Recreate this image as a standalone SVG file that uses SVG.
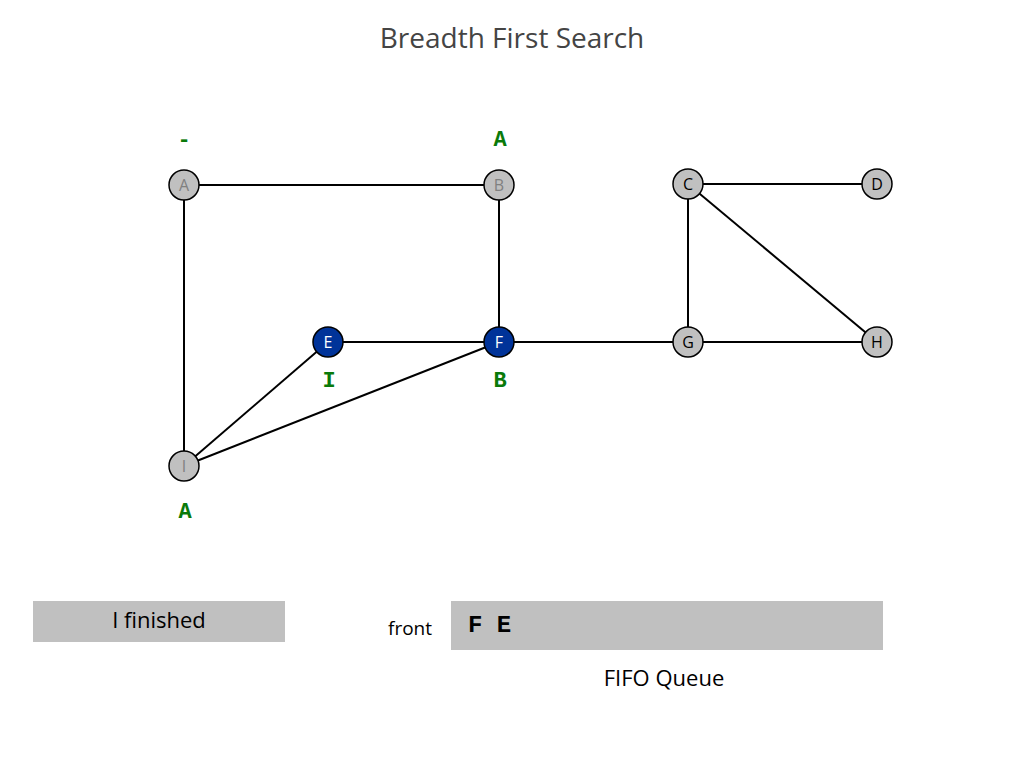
<svg xmlns="http://www.w3.org/2000/svg" width="1024" height="768" viewBox="0 0 1024 768">
<style>
.edge{stroke:#000;stroke-width:2;fill:none}
.node{stroke:#000;stroke-width:1.5}
.gray{fill:#c0c0c0}
.blue{fill:#003399}
.nt{font-family:"Open Sans","Liberation Sans",sans-serif;font-size:16px;text-anchor:middle;dominant-baseline:central}
.lab{font-family:"Liberation Mono",monospace;font-weight:bold;font-size:22px;fill:#0a7a0a;text-anchor:middle}
.txt{font-family:"Open Sans","Liberation Sans",sans-serif;fill:#000}
</style>
<rect width="1024" height="768" fill="#fff"/>
<text x="512" y="48" class="txt" style="font-size:28px;fill:#444;text-anchor:middle">Breadth First Search</text>
<g id="connectors">
<line class="edge" x1="184" y1="185" x2="499" y2="185"/>
<line class="edge" x1="184" y1="185" x2="184" y2="466"/>
<line class="edge" x1="499" y1="185" x2="499" y2="342"/>
<line class="edge" x1="328" y1="342" x2="499" y2="342"/>
<line class="edge" x1="499" y1="342" x2="688" y2="342"/>
<line class="edge" x1="688" y1="342" x2="877" y2="342"/>
<line class="edge" x1="688" y1="184" x2="877" y2="184"/>
<line class="edge" x1="688" y1="184" x2="688" y2="342"/>
<line class="edge" x1="688" y1="184" x2="877" y2="342"/>
<line class="edge" x1="184" y1="466" x2="328" y2="342"/>
<line class="edge" x1="184" y1="466" x2="499" y2="342"/>
</g>
<g id="node-A"><circle class="node gray" cx="184" cy="185" r="15"/><text class="nt" x="184" y="185" fill="#808080">A</text></g>
<g id="node-B"><circle class="node gray" cx="499" cy="185" r="15"/><text class="nt" x="499" y="185" fill="#808080">B</text></g>
<g id="node-C"><circle class="node gray" cx="688" cy="184" r="15"/><text class="nt" x="688" y="184" fill="#000">C</text></g>
<g id="node-D"><circle class="node gray" cx="877" cy="184" r="15"/><text class="nt" x="877" y="184" fill="#000">D</text></g>
<g id="node-E"><circle class="node blue" cx="328" cy="342" r="15"/><text class="nt" x="328" y="342" fill="#fff">E</text></g>
<g id="node-F"><circle class="node blue" cx="499" cy="342" r="15"/><text class="nt" x="499" y="342" fill="#fff">F</text></g>
<g id="node-G"><circle class="node gray" cx="688" cy="342" r="15"/><text class="nt" x="688" y="342" fill="#000">G</text></g>
<g id="node-H"><circle class="node gray" cx="877" cy="342" r="15"/><text class="nt" x="877" y="342" fill="#000">H</text></g>
<g id="node-I"><circle class="node gray" cx="184" cy="466" r="15"/><text class="nt" x="184" y="466" fill="#808080">I</text></g>
<g id="labels">
<text class="lab" x="184" y="146">-</text>
<text class="lab" x="500" y="146">A</text>
<text class="lab" x="329" y="387">I</text>
<text class="lab" x="500" y="387">B</text>
<text class="lab" x="185" y="518">A</text>
</g>
<g id="status">
<rect x="33" y="601" width="252" height="41" fill="#c0c0c0"/>
<text x="159" y="628" class="txt" style="font-size:22px;text-anchor:middle">I finished</text>
</g>
<g id="queue">
<text x="410" y="635" class="txt" style="font-size:19px;text-anchor:middle">front</text>
<rect x="451" y="601" width="432" height="49" fill="#c0c0c0"/>
<text x="468" y="632" style="font-family:'Liberation Mono',monospace;font-weight:bold;font-size:24px;fill:#000">F E</text>
<text x="664" y="686" class="txt" style="font-size:22px;text-anchor:middle">FIFO Queue</text>
</g>
</svg>
